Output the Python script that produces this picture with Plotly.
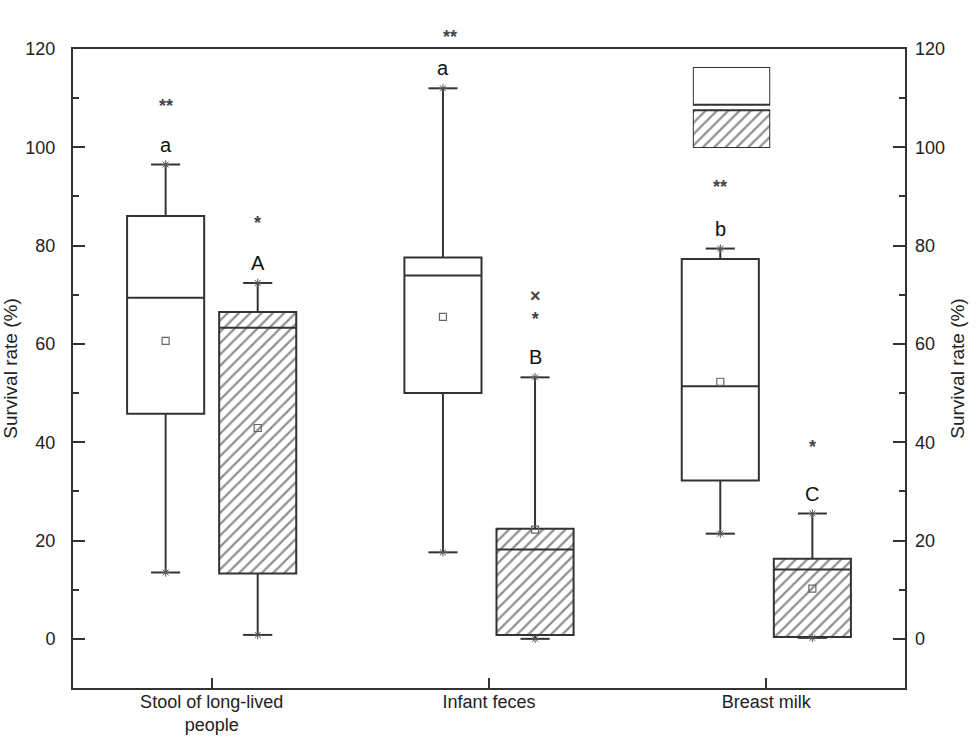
import numpy as np
import plotly.graph_objects as go

# ---------------- data ----------------
categories = ["Stool of long-lived<br>people", "Infant feces", "Breast milk"]

white_q1 = [45.8, 50.0, 32.2]
white_median = [69.4, 73.9, 51.4]
white_q3 = [86.0, 77.6, 77.3]
white_low = [13.5, 17.6, 21.4]
white_high = [96.5, 112.0, 79.4]
white_mean = [60.6, 65.5, 52.3]
white_letters = ["a", "a", "b"]

hatch_q1 = [13.3, 0.8, 0.4]
hatch_median = [63.3, 18.2, 14.1]
hatch_q3 = [66.5, 22.4, 16.3]
hatch_low = [0.8, 0.0, 0.2]
hatch_high = [72.4, 53.2, 25.5]
hatch_mean = [42.9, 22.2, 10.2]
hatch_letters = ["A", "B", "C"]

# significance / outlier symbols (category index, group, value, symbol)
mark_cat = [0, 0, 1, 2, 2]
mark_group = ["white", "hatch", "hatch", "white", "hatch"]
mark_value = [109.0, 85.3, 68.0, 92.6, 39.6]
mark_text = ["**", "*", "×<br>*", "**", "*"]

top_mark_text = "**"

# ---------------- styling ----------------
FONT = "Liberation Sans, Arial, sans-serif"
LINE = "#333333"
OFFSET = 0.166
BOXW = 0.278
CAPW = 0.105

cat_pos = np.arange(len(categories), dtype=float)
groups = {
    "white": dict(x=cat_pos - OFFSET, q1=white_q1, med=white_median, q3=white_q3,
                  lo=white_low, hi=white_high, mean=white_mean, letters=white_letters,
                  pattern=""),
    "hatch": dict(x=cat_pos + OFFSET, q1=hatch_q1, med=hatch_median, q3=hatch_q3,
                  lo=hatch_low, hi=hatch_high, mean=hatch_mean, letters=hatch_letters,
                  pattern="/"),
}

PATTERN = dict(fgcolor="#222222", bgcolor="white", size=8, solidity=0.28)

fig = go.Figure()
annotations = []

for name, g in groups.items():
    xs = g["x"]
    q1 = np.array(g["q1"]); q3 = np.array(g["q3"])
    wx, wy = [], []
    for x, a, b, lo, hi in zip(xs, g["q1"], g["q3"], g["lo"], g["hi"]):
        wx += [x, x, None, x, x, None, x - CAPW / 2, x + CAPW / 2, None, x - CAPW / 2, x + CAPW / 2, None]
        wy += [b, hi, None, a, lo, None, hi, hi, None, lo, lo, None]
    fig.add_trace(go.Scatter(x=wx, y=wy, mode="lines", line=dict(color=LINE, width=2),
                             hoverinfo="skip", showlegend=False))
    fig.add_trace(go.Scatter(x=list(xs) * 2, y=list(g["hi"]) + list(g["lo"]), mode="markers",
                             marker=dict(symbol="asterisk-open", size=7, color="#555",
                                         line=dict(color="#555", width=1)),
                             hoverinfo="skip", showlegend=False))
    fig.add_trace(go.Bar(x=xs, y=q3 - q1, base=q1, width=BOXW,
                         marker=dict(color="white", line=dict(color=LINE, width=2),
                                     pattern=dict(shape=g["pattern"], **PATTERN)),
                         hoverinfo="skip", showlegend=False))
    mx, my = [], []
    for x, m in zip(xs, g["med"]):
        mx += [x - BOXW / 2, x + BOXW / 2, None]
        my += [m, m, None]
    fig.add_trace(go.Scatter(x=mx, y=my, mode="lines", line=dict(color=LINE, width=2),
                             hoverinfo="skip", showlegend=False))
    fig.add_trace(go.Scatter(x=xs, y=g["mean"], mode="markers",
                             marker=dict(symbol="square-open", size=7, color="#666",
                                         line=dict(width=1.2)),
                             hoverinfo="skip", showlegend=False))
    for x, hi, t in zip(xs, g["hi"], g["letters"]):
        annotations.append(dict(x=x, y=hi, text=t, showarrow=False, yshift=20,
                                font=dict(family=FONT, size=20, color="#111"),
                                xref="x", yref="y"))

for c, grp, v, t in zip(mark_cat, mark_group, mark_value, mark_text):
    x = cat_pos[c] + (-OFFSET if grp == "white" else OFFSET)
    annotations.append(dict(x=x, y=v, text="<b>" + t + "</b>", showarrow=False, yshift=-3,
                            font=dict(family=FONT, size=18, color="#444"),
                            xref="x", yref="y"))

annotations.append(dict(x=0.86, y=1.042, xref="x", yref="paper", text="<b>" + top_mark_text + "</b>",
                        showarrow=False, yshift=-3, font=dict(family=FONT, size=18, color="#444")))

# legend boxes (decoration drawn on a hidden helper axis)
fig.add_trace(go.Bar(x=[0, 0], y=[0.465, 0.465], base=[0.535, 0.0], width=1.0,
                     marker=dict(color="white", line=dict(color=LINE, width=2),
                                 pattern=dict(shape=["", "/"], **PATTERN)),
                     xaxis="x3", yaxis="y3", hoverinfo="skip", showlegend=False))

axis_font = dict(family=FONT, size=18, color="#222")
yaxis_common = dict(range=[-10, 120], dtick=20, tick0=0, ticks="inside", ticklen=12,
                    tickwidth=2, tickcolor=LINE, showgrid=False, zeroline=False,
                    tickfont=axis_font, automargin=False,
                    minor=dict(dtick=10, ticks="inside", ticklen=6, tickwidth=1.5, tickcolor=LINE),
                    title=dict(text="Survival rate (%)", font=dict(family=FONT, size=19, color="#222"),
                               standoff=6))

fig.update_layout(
    width=979, height=740,
    margin=dict(l=73, r=74, t=49, b=52),
    paper_bgcolor="white", plot_bgcolor="white",
    barmode="overlay",
    showlegend=False,
    font=dict(family=FONT),
    xaxis=dict(range=[-0.5, 2.5], tickvals=list(cat_pos), ticktext=categories,
               ticks="inside", ticklen=10, tickwidth=2, tickcolor=LINE,
               showline=True, linecolor=LINE, linewidth=2, mirror=True,
               showgrid=False, zeroline=False, automargin=False,
               ticklabelstandoff=-4,
               tickfont=dict(family=FONT, size=18, color="#222")),
    yaxis=dict(showline=True, linecolor=LINE, linewidth=2, mirror=True,
               ticklabelstandoff=12, **yaxis_common),
    yaxis2=dict(overlaying="y", side="right", matches="y", showline=False,
                ticklabelstandoff=9, **yaxis_common),
    xaxis3=dict(domain=[0.745, 0.838], range=[-0.5, 0.5], visible=False, anchor="y3"),
    yaxis3=dict(domain=[0.845, 0.972], range=[0, 1], visible=False, anchor="x3"),
    annotations=annotations,
)

fig.add_trace(go.Scatter(x=[None], y=[None], yaxis="y2", showlegend=False, hoverinfo="skip"))

fig.write_html("out.html", config={"displayModeBar": False},
               post_script="document.body.style.margin='0';")
